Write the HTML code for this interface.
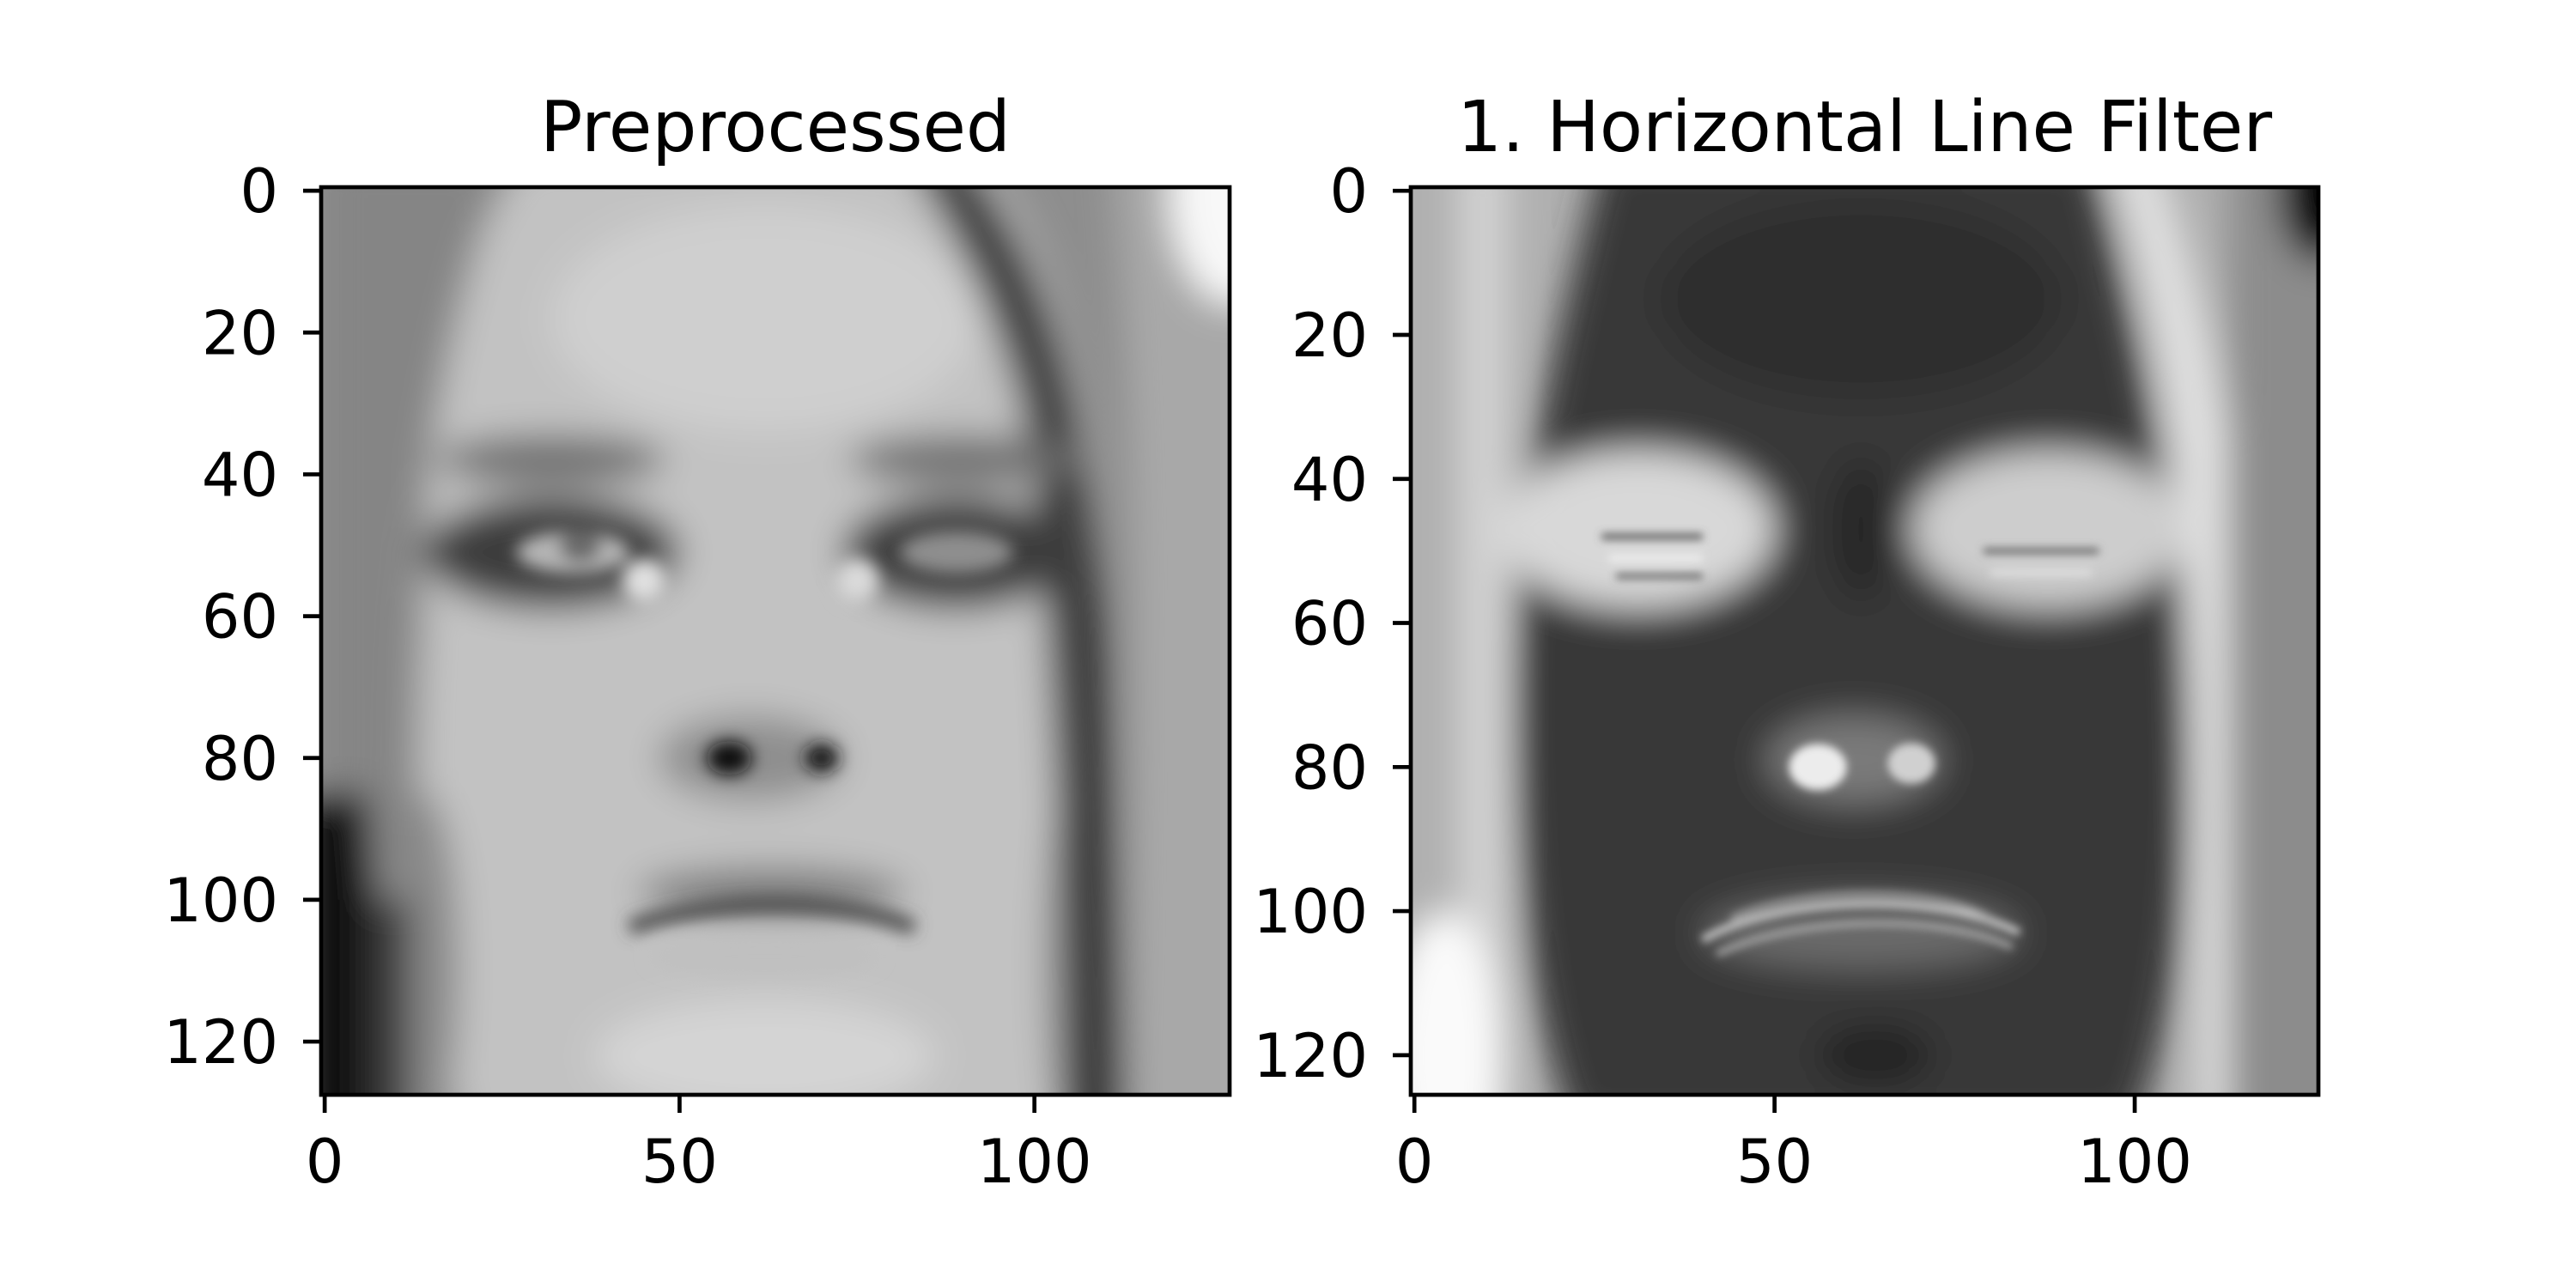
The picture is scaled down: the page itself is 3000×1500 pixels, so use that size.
<!DOCTYPE html>
<html><head><meta charset="utf-8"><style>
html,body{margin:0;padding:0;background:#fff;}
svg{display:block;}
text{font-family:"DejaVu Sans","Liberation Sans",sans-serif;fill:#000;}
</style></head><body>
<svg id="fig" width="3000" height="1500" viewBox="0 0 3000 1500" xmlns="http://www.w3.org/2000/svg">
<defs>
<filter id="b1" x="-20%" y="-20%" width="140%" height="140%"><feGaussianBlur stdDeviation="1.2"/></filter>
<filter id="b2" x="-30%" y="-30%" width="160%" height="160%"><feGaussianBlur stdDeviation="2.5"/></filter>
<filter id="b05"><feGaussianBlur stdDeviation="0.6"/></filter>
</defs>

<!-- Left image: preprocessed face -->
<svg x="374" y="218" width="1058" height="1057" viewBox="-0.5 -0.5 128 128" preserveAspectRatio="none">
  <rect x="-0.5" y="-0.5" width="128" height="128" fill="#8e8e8e"/>
  <g filter="url(#b2)">
    <path d="M28,-5 C18,10 14,30 14,60 C12,90 14,110 20,135 L108,135 C110,100 112,60 108,35 C104,15 98,0 92,-5 Z" fill="#c2c2c2"/>
    <ellipse cx="62" cy="18" rx="30" ry="16" fill="#cfcfcf"/>
    <ellipse cx="62" cy="122" rx="24" ry="8" fill="#d4d4d4"/>
    <ellipse cx="14" cy="110" rx="5" ry="25" fill="#8a8a8a"/>
    <ellipse cx="105" cy="110" rx="4" ry="25" fill="#a0a0a0"/>
    <path d="M90,-5 C102,10 108,30 110,60 L113,135 L104,135 C104,90 102,50 98,30 C94,15 88,5 82,-5Z" fill="#3a3a3a"/>
    <path d="M111,-5 L135,-5 L135,135 L113,135 C114,80 115,40 111,-5Z" fill="#a8a8a8"/>
    <ellipse cx="128" cy="0" rx="9" ry="16" fill="#f8f8f8"/>
    <path d="M0,-5 L26,-5 C16,20 12,50 12,80 L10,135 L0,135Z" fill="#858585"/>
    <path d="M-3,85 L6,85 L10,135 L-3,135Z" fill="#0a0a0a"/>
    <rect x="6" y="100" width="6" height="35" fill="#3a3a3a"/>
    <ellipse cx="32" cy="38" rx="16" ry="3.5" fill="#6e6e6e"/>
    <ellipse cx="90" cy="38" rx="16" ry="3.5" fill="#707070"/>
    <ellipse cx="32" cy="51" rx="18" ry="8" fill="#3e3e3e"/>
    <ellipse cx="89" cy="51" rx="16" ry="8" fill="#3e3e3e"/>
    <ellipse cx="60" cy="80" rx="13" ry="6" fill="#8e8e8e"/>
    <ellipse cx="63" cy="99" rx="19" ry="3.5" fill="#7a7a7a"/>
  </g>
  <g filter="url(#b1)">
    <ellipse cx="35" cy="51" rx="8" ry="3" fill="#b5b5b5"/>
    <ellipse cx="89" cy="51" rx="8" ry="3" fill="#8e8e8e"/>
    <ellipse cx="45" cy="55" rx="3" ry="3" fill="#e0e0e0"/>
    <ellipse cx="75" cy="55" rx="3" ry="3" fill="#dadada"/>
    <ellipse cx="36" cy="50" rx="3" ry="2.5" fill="#6a6a6a"/>
    <ellipse cx="57" cy="80" rx="3.2" ry="2.4" fill="#0a0a0a"/>
    <ellipse cx="70" cy="80" rx="2.4" ry="2" fill="#151515"/>
    <path d="M43,104 C52,100 72,99 83,104" stroke="#444" stroke-width="2" fill="none"/>
    <ellipse cx="62" cy="108" rx="16" ry="3" fill="#c0c0c0"/>
  </g>
</svg>

<!-- Right image: horizontal line filter -->
<svg x="1643" y="218" width="1057" height="1057" viewBox="-0.5 -0.5 126 126" preserveAspectRatio="none">
  <rect x="-0.5" y="-0.5" width="126" height="126" fill="#b0b0b0"/>
  <g filter="url(#b2)">
    <rect x="6" y="-5" width="7" height="140" fill="#d2d2d2"/>
    <ellipse cx="4" cy="120" rx="8" ry="20" fill="#fafafa"/>
    <path d="M96,-5 C103,15 107,40 108,70 L109,130 L116,130 L116,60 C114,30 108,10 103,-5Z" fill="#e0e0e0"/>
    <rect x="113" y="-5" width="20" height="140" fill="#8c8c8c"/>
    <ellipse cx="126" cy="0" rx="6" ry="10" fill="#000"/>
    <path d="M26,-5 L94,-5 C100,20 106,40 107,70 C108,95 106,115 100,130 L22,130 C16,115 14,95 14,70 C14,40 20,20 26,-5Z" fill="#383838"/>
    <ellipse cx="62" cy="15" rx="28" ry="14" fill="#2e2e2e"/>
    <ellipse cx="31" cy="47" rx="19" ry="11" fill="#d8d8d8"/>
    <ellipse cx="88" cy="47" rx="19" ry="11" fill="#cdcdcd"/>
    <ellipse cx="62" cy="47" rx="4" ry="10" fill="#262626"/>
    <ellipse cx="61" cy="79" rx="12" ry="6" fill="#7a7a7a"/>
    <ellipse cx="62" cy="103" rx="22" ry="5" fill="#6a6a6a"/>
    <ellipse cx="64" cy="120" rx="8" ry="4" fill="#222"/>
  </g>
  <g filter="url(#b05)">
    <line x1="26" y1="48" x2="40" y2="48" stroke="#555" stroke-width="0.8"/>
    <line x1="27" y1="51" x2="40" y2="51" stroke="#f2f2f2" stroke-width="0.8"/>
    <line x1="28" y1="53.5" x2="40" y2="53.5" stroke="#555" stroke-width="0.7"/>
    <line x1="79" y1="50" x2="95" y2="50" stroke="#666" stroke-width="0.8"/>
    <line x1="80" y1="53" x2="94" y2="53" stroke="#e4e4e4" stroke-width="0.7"/>
    <ellipse cx="56" cy="80" rx="4" ry="3.2" fill="#ececec"/>
    <ellipse cx="69" cy="79.5" rx="3.3" ry="2.8" fill="#d0d0d0"/>
    <path d="M40,104 C50,98 72,97 84,103" stroke="#c8c8c8" stroke-width="1" fill="none"/>
    <path d="M42,106 C52,101 72,100 83,105" stroke="#aaa" stroke-width="0.8" fill="none"/>
    <path d="M44,101 C52,97 72,96 80,101" stroke="#9a9a9a" stroke-width="0.8" fill="none"/>
  </g>
</svg>

<g id="axes"></g>
</svg>
<script>
const leftXTicks = [0, 50, 100];
const leftYTicks = [0, 20, 40, 60, 80, 100, 120];
const rightXTicks = [0, 50, 100];
const rightYTicks = [0, 20, 40, 60, 80, 100, 120];
const leftExtent = [-0.5, 127.5];
const rightExtent = [-0.5, 125.5];
const titles = ["Preprocessed", "1. Horizontal Line Filter"];

const NS = "http://www.w3.org/2000/svg";
const axesG = document.getElementById("axes");
function mk(tag, attrs) {
  const e = document.createElementNS(NS, tag);
  for (const k in attrs) e.setAttribute(k, attrs[k]);
  axesG.appendChild(e);
  return e;
}
function drawAxes(box, ext, xt, yt, title, prefix) {
  const sx = v => box.x0 + (v - ext[0]) / (ext[1] - ext[0]) * (box.x1 - box.x0);
  const sy = v => box.y0 + (v - ext[0]) / (ext[1] - ext[0]) * (box.y1 - box.y0);
  const frame = mk("rect", {x: box.x0, y: box.y0, width: box.x1 - box.x0, height: box.y1 - box.y0, fill: "none", stroke: "#000", "stroke-width": 4.7});
  
  
  xt.forEach(v => {
    const x = sx(v);
    const t = mk("line", {x1: x, y1: box.y1, x2: x, y2: box.y1 + 21, stroke: "#000", "stroke-width": 4.7});
    
    
    const l = mk("text", {x: x, y: box.y1 + 102, "text-anchor": "middle", "font-size": 70});
    l.textContent = v;
    
    
  });
  yt.forEach(v => {
    const y = sy(v);
    const t = mk("line", {x1: box.x0 - 21, y1: y, x2: box.x0, y2: y, stroke: "#000", "stroke-width": 4.7});
    
    
    const l = mk("text", {x: box.x0 - 50, y: y + 25, "text-anchor": "end", "font-size": 70});
    l.textContent = v;
    
    
  });
  const tt = mk("text", {x: (box.x0 + box.x1) / 2, y: 176, "text-anchor": "middle", "font-size": 82});
  tt.textContent = title;
  
  
}
drawAxes({x0: 374, x1: 1432, y0: 218, y1: 1275}, leftExtent, leftXTicks, leftYTicks, titles[0], "preprocessed");
drawAxes({x0: 1643, x1: 2700, y0: 218, y1: 1275}, rightExtent, rightXTicks, rightYTicks, titles[1], "filter");
</script>
</body></html>
